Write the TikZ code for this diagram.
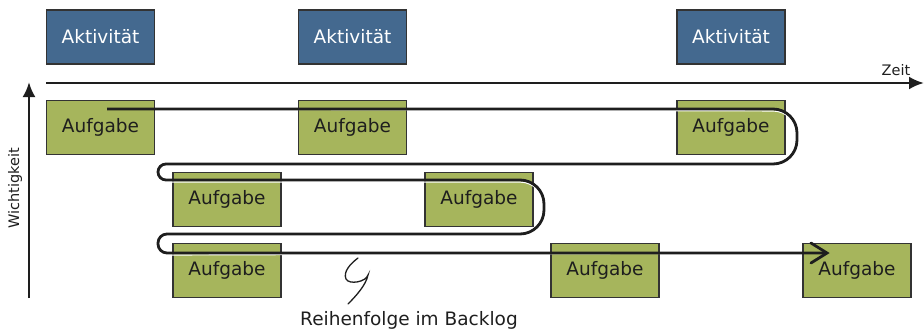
\documentclass[tikz,border=0pt]{standalone}
\usepackage{fontspec}
\setmainfont{DejaVu Sans}
\usetikzlibrary{arrows.meta}
\definecolor{aktblue}{HTML}{44698F}
\definecolor{taskgreen}{HTML}{A6B55C}
\definecolor{edgegray}{HTML}{333333}
\definecolor{ink}{HTML}{1E1E1E}
\tikzset{
  card/.style={draw=edgegray, line width=1.3pt, minimum width=108pt, minimum height=54pt, inner sep=0pt, font=\fontsize{18.5}{21}\selectfont},
  aktbox/.style={card, fill=aktblue, text=white},
  taskbox/.style={card, fill=taskgreen, text=ink},
  axis/.style={draw=ink, line width=2.6pt, -{Latex[length=15pt,width=13pt]}},
  route/.style={draw=ink, line width=2.8pt},
  routeglow/.style={draw=white, line width=1.2pt},
  lbl/.style={text=ink, inner sep=0pt}
}
\begin{document}
\begin{tikzpicture}[x=1pt, y=-1pt]
\useasboundingbox (0,0) rectangle (924,329);

% activities on the time line
\node[aktbox] (a1) at (100.5,37) {Aktivität};
\node[aktbox] (a2) at (352.5,37) {Aktivität};
\node[aktbox] (a3) at (731,37) {Aktivität};

% axes
\coordinate (t0) at (46,83);
\coordinate (t1) at (924,83);
\coordinate (w0) at (29,298);
\coordinate (w1) at (29,82);
\draw[axis] (t0) -- (t1);
\draw[axis] (w0) -- (w1);
\node[lbl, font=\fontsize{14.5}{17}\selectfont] (zeit) at (896,70) {Zeit};
\node[lbl, font=\fontsize{14.5}{17}\selectfont, rotate=90] (wicht) at (15,188) {Wichtigkeit};

% tasks, by row of importance
\node[taskbox] (r1a) at (100.5,127.5) {Aufgabe};
\node[taskbox] (r1b) at (352.5,127.5) {Aufgabe};
\node[taskbox] (r1c) at (731,127.5) {Aufgabe};
\node[taskbox] (r2a) at (227,199.5) {Aufgabe};
\node[taskbox] (r2b) at (479,199.5) {Aufgabe};
\node[taskbox] (r3a) at (227,270.5) {Aufgabe};
\node[taskbox] (r3b) at (605,270.5) {Aufgabe};
\node[taskbox] (r3c) at (857,270.5) {Aufgabe};

% backlog order: a snake through all tasks
\coordinate (s0) at (107,109);
\coordinate (s1) at (827,253);
\foreach \dy/\sty in {2/routeglow, 0/route}{
  \draw[\sty, yshift=-\dy pt, line join=round]
    (s0) [rounded corners=24pt] -- (797,109) -- (797,164)
    [rounded corners=8pt] -- (158,164) -- (158,180)
    [rounded corners=24pt] -- (544,180) -- (544,234)
    [rounded corners=9pt] -- (158,234) -- (158,253)
    [sharp corners] -- (s1);
}
\draw[ink, line width=2.8pt, line cap=round, line join=miter]
  (811,243) -- (827,253) -- (811,263);

% annotation
\coordinate (z0) at (358,258);
\coordinate (z1) at (348,304);
\draw[ink, line width=1.3pt, line cap=round]
  (z0) .. controls (350,264) and (343,272) .. (346,279)
       .. controls (349,285) and (366,282) .. (368,275)
       .. controls (366,285) and (356,296) .. (z1);
\node[lbl, font=\fontsize{18.5}{21}\selectfont] (order) at (409,320) {Reihenfolge im Backlog};
\end{tikzpicture}
\end{document}
